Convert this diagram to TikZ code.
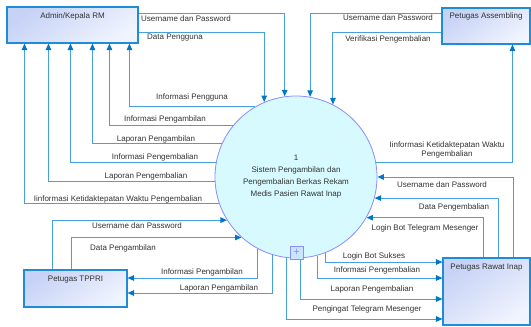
\documentclass[tikz,border=0pt]{standalone}
\usepackage{fontspec}
\setmainfont{Liberation Sans}
\usepackage{tikz}
\usetikzlibrary{arrows.meta,positioning,shapes.geometric}

\definecolor{flowline}{RGB}{70,160,222}
\definecolor{flowtip}{RGB}{0,118,200}
\definecolor{boxedge}{RGB}{30,140,215}
\definecolor{boxtop}{RGB}{198,210,246}
\definecolor{boxbot}{RGB}{240,244,254}
\definecolor{procfill}{RGB}{214,250,255}
\definecolor{procedge}{RGB}{140,140,255}
\definecolor{plusfill}{RGB}{200,230,255}
\definecolor{labeltext}{RGB}{50,50,50}

\begin{document}
\begin{tikzpicture}[
    x=1pt, y=-1pt,
    entity/.style={
        draw=boxedge,
        line width=1.1pt,
        top color=boxtop,
        bottom color=boxbot,
        shading angle=35,
        inner xsep=0pt,
        inner ysep=0pt,
        align=center,
        font=\fontsize{8}{9.5}\selectfont,
        text=labeltext
    },
    process/.style={
        draw=procedge,
        circle,
        fill=procfill,
        line width=0.8pt,
        minimum size=162pt,
        inner sep=0pt,
        align=center,
        font=\fontsize{8}{12}\selectfont,
        text=labeltext
    },
    plusbox/.style={
        draw=procedge,
        fill=plusfill,
        line width=0.8pt,
        minimum size=13pt,
        inner sep=0pt,
        text=procedge,
        font=\fontsize{11}{11}\selectfont
    },
    flowlabel/.style={
        font=\fontsize{8}{9.5}\selectfont,
        text=labeltext,
        inner sep=0pt,
        align=center
    },
    flow/.style={
        draw=flowline,
        line width=1pt,
        -{Triangle[length=6.5pt,width=5.5pt,color=flowtip]}
    }
]
\useasboundingbox (0,0) rectangle (531,327);

% process
\node[process] (sys) at (296,177) {1\\Sistem Pengambilan dan\\Pengembalian Berkas Rekam\\Medis Pasien Rawat Inap};

% external entities
\node[entity, minimum width=131pt, text height=11pt, text depth=25pt] (admin) at (72.5,25) {Admin/Kepala RM};
\node[entity, minimum width=88pt, text height=10pt, text depth=26pt] (asm) at (486,26) {Petugas Assembling};
\node[entity, minimum width=103pt, text height=11pt, text depth=26pt] (tppri) at (75.5,288.5) {Petugas TPPRI};
\node[entity, minimum width=87pt, text height=11pt, text depth=56pt] (rawat) at (486.5,291.5) {Petugas Rawat Inap};

% admin flows
\draw[flow] ([yshift=12pt]admin.east) -| (sys.98.5);
\draw[flow] ([yshift=-7pt]admin.east) -| (sys.113.3);
\draw[flow] (sys.120.2) -| ([xshift=123pt]admin.south west);
\draw[flow] (sys.141) -| ([xshift=103pt]admin.south west);
\draw[flow] (sys.156) -| ([xshift=86pt]admin.south west);
\draw[flow] (sys.170) -| ([xshift=64pt]admin.south west);
\draw[flow] (sys.183.5) -| ([xshift=42pt]admin.south west);
\draw[flow] (sys.199.5) -| ([xshift=18pt]admin.south west);

% assembling flows
\draw[flow] ([yshift=13pt]asm.west) -| (sys.80);
\draw[flow] ([yshift=-6pt]asm.west) -| (sys.63.6);
\draw[flow] (sys.10.7) -| ([xshift=71pt]asm.south west);

% rawat inap flows
\draw[flow] ([xshift=71pt]rawat.north west) |- (sys.-0.7);
\draw[flow] ([xshift=56pt]rawat.north west) |- (sys.-15.8);
\draw[flow] ([xshift=41pt]rawat.north west) |- (sys.-30.4);
\draw[flow] (sys.-69.8) |- ([yshift=29.5pt]rawat.west);
\draw[flow] (sys.-75.7) |- ([yshift=13.5pt]rawat.west);
\draw[flow] (sys.-87.2) |- ([yshift=-7.5pt]rawat.west);
\draw[flow] (sys.-97.1) |- ([yshift=-27.5pt]rawat.west);

% tppri flows
\draw[flow] ([xshift=29pt]tppri.north west) |- (sys.212.1);
\draw[flow] ([xshift=48pt]tppri.north west) |- (sys.228.9);
\draw[flow] (sys.242) |- ([yshift=10.5pt]tppri.east);
\draw[flow] (sys.253.5) |- ([yshift=-4.5pt]tppri.east);

\node[plusbox] (plus) at (296.5,252.5) {+};

% labels
\node[flowlabel] (lAdmUser) at (186,19) {Username dan Password};
\node[flowlabel] (lAdmData) at (175,38) {Data Pengguna};
\node[flowlabel] (lAdmInfoUser) at (192,97) {Informasi Pengguna};
\node[flowlabel] (lAdmInfoAmbil) at (165,119) {Informasi Pengambilan};
\node[flowlabel] (lAdmLapAmbil) at (156,139) {Laporan Pengambilan};
\node[flowlabel] (lAdmInfoKembali) at (155,157) {Informasi Pengembalian};
\node[flowlabel] (lAdmLapKembali) at (146,176) {Laporan Pengembalian};
\node[flowlabel] (lAdmTelat) at (118,199) {Iinformasi Ketidaktepatan Waktu Pengembalian};
\node[flowlabel] (lAsmUser) at (388,18) {Username dan Password};
\node[flowlabel] (lAsmVerif) at (388,39) {Verifikasi Pengembalian};
\node[flowlabel] (lAsmTelat) at (447,150) {Iinformasi Ketidaktepatan Waktu\\Pengembalian};
\node[flowlabel] (lRiUser) at (442,185) {Username dan Password};
\node[flowlabel] (lRiData) at (454,207) {Data Pengembalian};
\node[flowlabel] (lRiLogin) at (425,228) {Login Bot Telegram Mesenger};
\node[flowlabel] (lRiSukses) at (374,256) {Login Bot Sukses};
\node[flowlabel] (lRiInfo) at (377,270) {Informasi Pengembalian};
\node[flowlabel] (lRiLap) at (372,289) {Laporan Pengembalian};
\node[flowlabel] (lRiIngat) at (367,309) {Pengingat Telegram Mesenger};
\node[flowlabel] (lTpUser) at (137,226) {Username dan Password};
\node[flowlabel] (lTpData) at (123,248) {Data Pengambilan};
\node[flowlabel] (lTpInfo) at (202,272) {Informasi Pengambilan};
\node[flowlabel] (lTpLap) at (219,288) {Laporan Pengambilan};
\end{tikzpicture}
\end{document}
